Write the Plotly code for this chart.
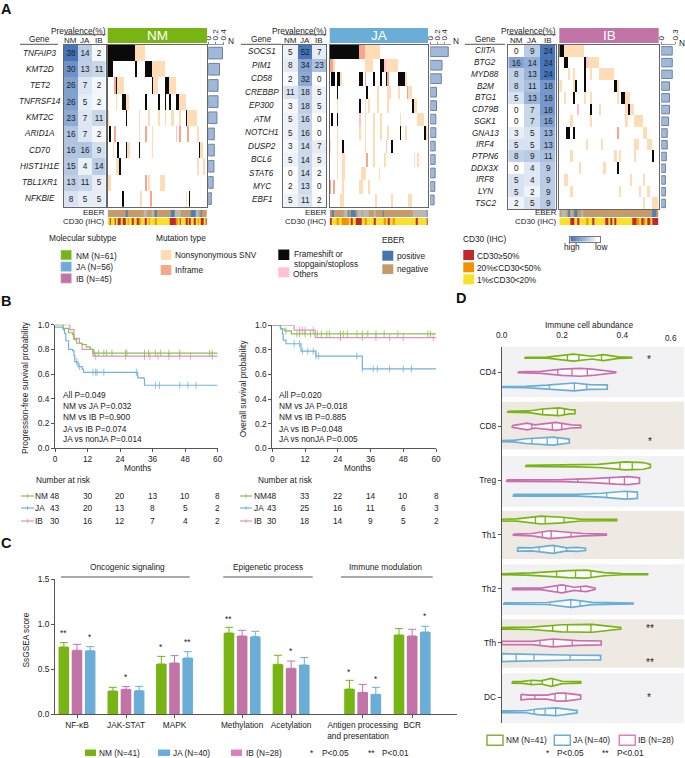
"""Molecular subtype figure: oncoplots, survival, ssGSEA bars, immune cell violins"""
import plotly.graph_objects as go

W, H = 685, 758

# colours
GREEN, BLUE, PINK = "#78b414", "#6aaed8", "#c274a8"
KM_GREEN, KM_BLUE, KM_PINK = "#8cc04a", "#72b2dd", "#e08fc4"
DARK = "#222222"
FONT = "Liberation Sans"

# panel A
NM_GENES = ["TNFAIP3", "KMT2D", "TET2", "TNFRSF14", "KMT2C", "ARID1A", "CD70", "HIST1H1E", "TBL1XR1", "NFKBIE"]
NM_PREV = [[38, 14, 2], [30, 13, 11], [26, 7, 2], [26, 5, 2], [23, 7, 11], [16, 7, 2], [16, 16, 9], [15, 4, 14], [13, 11, 5], [8, 5, 5]]
NM_FRAME = ["0-16", "0-2 17 23-26", "5 27 35-37", "9-10 23 31 35 38 42-43", "11 48", "1", "6 11 19 56", "7", "", "9 50"]
NM_SNV = ["17-22", "27-34", "6-9 28-30 38-41", "5 11-12 44-47", "0 19 25 31 35 39-40 44 49-54", "19 27 55", "3 12-13 27 57-58", "5-6 55 59", "0-1 25 32-34", "20 48"]
NM_INFRAME = ["", "", "4", "", "", "4 23 44 49", "", "", "23", "26"]
NM_OTHER = ["", "", "", "", "", "42", "", "", "", ""]
NM_EBER_POS = "11 29 39-40 51-52 53 57"
NM_EBER_NA = "22-23 27 41-44 54-55"
NM_CD30_RED = "1 4 6-7 9 10 15 18 23 38-41 44 48 50 53 57 58 60"
NM_CD30_ORANGE = "12 19 25 29 42 55"

JA_GENES = ["SOCS1", "PIM1", "CD58", "CREBBP", "EP300", "ATM", "NOTCH1", "DUSP2", "BCL6", "STAT6", "MYC", "EBF1"]
JA_PREV = [[5, 52, 7], [8, 34, 23], [2, 32, 0], [11, 18, 5], [3, 18, 5], [5, 16, 0], [5, 16, 0], [3, 14, 7], [5, 14, 5], [0, 14, 2], [2, 13, 0], [5, 11, 2]]
JA_FRAME = ["0-16", "29-30", "1-2 4-5 17-18 25 29 32 39-42", "4 21", "17 47", "1 4", "40 54", "7 35", "", "", "", ""]
JA_SNV = ["20-28", "2 20-24 32-38", "6 43", "27 33-34 39 45-46", "4 20 22 27 33 48-49", "20 25 29 40 50-53", "4 17 20 25 29 33 43 55", "0 4 20 25", "4 7-8 25 31 48 50", "4 7-8 18-20 28", "7 17-18 22", "6-7 26 35 45-46"]
JA_INFRAME = ["17-19", "0-1", "20 33", "44", "", "", "", "", "21", "", "0 2", ""]
JA_OTHER = ["", "31", "", "", "", "17", "", "32", "", "", "", ""]
JA_EBER_POS = "1 10 12-14 30 55"
JA_EBER_NA = "8-9 16-17 19-21 25 47-54"
JA_CD30_RED = "0 12 15-17 25 33 49 55"
JA_CD30_ORANGE = "4 7-10 20 31 36"

IB_GENES = ["CIITA", "BTG2", "MYD88", "B2M", "BTG1", "CD79B", "SGK1", "GNA13", "IRF4", "PTPN6", "DDX3X", "IRF8", "LYN", "TSC2"]
IB_PREV = [[0, 9, 24], [16, 14, 24], [8, 13, 24], [8, 11, 18], [5, 13, 18], [0, 7, 18], [0, 7, 16], [3, 5, 13], [5, 5, 13], [8, 9, 11], [0, 4, 9], [5, 4, 9], [5, 2, 9], [2, 5, 9]]
IB_FRAME = ["0-1", "2-3 11", "11", "7 11 25", "6 28-29", "14 31", "", "3-4 6", "", "42", "26", "", "", ""]
IB_SNV = ["2-10", "13-17", "4 6 14 18-24", "0 6 26", "2 11 14 26 30-31", "18 30 32-33", "5 14 30 34-37", "38-39", "12 19 34-35 40-41", "5 25 27 34", "9 20", "2-3 32 38", "5 27 36 40", "38 42-44"]
IB_INFRAME = ["", "", "", "", "", "", "", "26", "", "", "", "", "", ""]
IB_OTHER = ["", "12", "", "", "", "8", "", "", "", "", "", "", "", ""]
IB_EBER_POS = "4 7 42-43"
IB_EBER_NA = "1-2 5 10"
IB_CD30_RED = "5-6 8 15 21 23 25 33-34 37 40 42-44"
IB_CD30_ORANGE = "12 35 38"

# panel B, steps (months, survival)
PFS_NM_T = [0, 3, 5, 6.5, 7, 8, 10, 11.5, 13, 14, 60]
PFS_NM_S = [1, .97, .935, .92, .88, .85, .84, .82, .80, .77, .77]
PFS_IB_T = [0, 5.5, 7, 9, 10, 14, 60]
PFS_IB_S = [1, .96, .89, .85, .80, .745, .745]
PFS_JA_T = [0, 3, 3.5, 4, 5, 6.5, 7, 7.3, 8.5, 10, 10.5, 30.5, 32.5, 33, 60]
PFS_JA_S = [.98, .96, .93, .87, .80, .79, .75, .70, .66, .64, .615, .57, .565, .51, .51]
PFS_NM_C = [14.5, 16, 18, 19, 21, 26, 26.5, 33, 34.5, 37, 39, 42, 46, 57, 58]
PFS_IB_C = [15, 26, 33, 35, 38, 42, 46, 50, 58]
PFS_JA_C = [8, 9, 14, 15, 15.5, 18, 30, 37, 38.5, 46, 49, 52]
OS_NM_T = [0, 3, 4.5, 7, 60]
OS_NM_S = [1, .97, .955, .93, .93]
OS_IB_T = [0, 8, 15.7, 60]
OS_IB_S = [1, .96, .90, .90]
OS_JA_T = [0, 3, 3.7, 4, 5, 10.5, 16, 33, 60]
OS_JA_S = [1, .975, .93, .88, .85, .79, .75, .645, .645]
OS_NM_C = [5, 9, 10, 12, 14, 16.5, 18, 20, 21, 25, 26, 27.5, 31, 33, 35, 38, 41, 46, 57, 58]
OS_IB_C = [10, 11, 12, 15, 25, 33, 38, 43, 48, 59]
OS_JA_C = [8, 10, 11, 13, 15, 16, 17, 31, 33, 37, 38.5, 43, 48, 51]
RISK_MONTHS = [0, 12, 24, 36, 48, 60]
PFS_RISK = {"NM": [48, 30, 20, 13, 10, 8], "JA": [43, 20, 13, 8, 5, 2], "IB": [30, 16, 12, 7, 4, 2]}
OS_RISK = {"NM": [48, 33, 22, 14, 10, 8], "JA": [43, 25, 16, 11, 6, 3], "IB": [30, 18, 14, 9, 5, 2]}
PFS_P = ["All P=0.049", "NM vs JA P=0.032", "NM vs IB P=0.900", "JA vs IB P=0.074", "JA vs nonJA P=0.014"]
OS_P = ["All P=0.020", "NM vs JA P=0.018", "NM vs IB P=0.885", "JA vs IB P=0.048", "JA vs nonJA P=0.005"]

# panel C
PATHWAYS = ["NF-κB", "JAK-STAT", "MAPK", "Methylation", "Acetylation", "Antigen processing<br>and presentation&nbsp;&nbsp;&nbsp;&nbsp;", "BCR"]
PATHWAY_POS = [0, 1, 1.99, 3.37, 4.37, 5.83, 6.84]
SCORE_NM = [.746, .256, .557, .902, .553, .278, .88]
SCORE_IB = [.71, .275, .568, .869, .509, .241, .869]
SCORE_JA = [.705, .26, .624, .861, .546, .219, .913]
ERR_NM = [.049, .041, .085, .063, .101, .097, .071]
ERR_IB = [.066, .03, .082, .063, .081, .089, .074]
ERR_JA = [.045, .048, .07, .06, .082, .078, .064]
# pathway index, group offset, label, height
C_STARS = [(0, -1, "**", .906), (0, 1, "*", .86), (1, 0, "*", .416), (2, -1, "*", .743), (2, 1, "**", .806),
           (3, -1, "**", 1.06), (4, 0, "*", .705), (5, -1, "*", .47), (5, 1, "*", .394), (6, 1, "*", 1.09)]

# panel D: knots of each violin (value, relative half width) and quartile lines
CELLS = ["CD4", "CD8", "Treg", "Th1", "Th2", "Tfh", "DC"]
CD4_NM = ([.077, .15, .238, .30, .337, .387, .431], [.1, .12, .9, .35, .75, .2, .1], [.218, .256, .331])
CD4_IB = ([.055, .13, .20, .26, .30, .36, .378], [.1, .25, .8, 1, .8, .3, .1], [.186, .233, .284])
CD4_JA = ([0, .08, .15, .24, .29, .35], [.1, .15, .45, 1, .6, .55], [.158, .241, .282])
CD8_NM = ([.02, .09, .135, .19, .225, .243], [.1, .2, .7, 1, .55, .5], [.136, .185, .208])
CD8_IB = ([.035, .06, .085, .11, .18, .23, .262], [.2, .5, .85, .4, 1, .4, .3], [.1, .168, .199])
CD8_JA = ([0, .04, .08, .17, .224], [.15, .2, .6, 1, .5], [.1, .151, .185])
TREG_NM = ([.08, .25, .32, .41, .47, .493], [.15, .25, .4, 1, .85, .4], [.2, .392, .433])
TREG_IB = ([.017, .2, .3, .38, .42, .457], [.2, .25, .5, .9, 1, .7], [.252, .357, .407])
TREG_JA = ([.039, .25, .33, .41, .45], [.2, .2, .5, 1, .8], [.25, .348, .417])
TH1_NM = ([0, .05, .13, .2, .26, .381], [.2, .3, 1, .7, .25, .15], [.112, .144, .207])
TH1_IB = ([.039, .1, .16, .2, .27, .347], [.15, .3, 1, .7, .3, .15], [.135, .164, .23])
TH1_JA = ([.053, .1, .17, .215, .25, .278], [.45, .4, 1, .4, .5, .3], [.124, .175, .215])
TH2_NM = ([0, .1, .22, .28, .34, .4, .484], [.1, .3, .9, 1, .4, .15, .1], [.182, .245, .296])
TH2_IB = ([.036, .13, .2, .24, .28, .31], [.2, .2, 1, .4, .7, .15], [.185, .212, .262])
TH2_JA = ([.007, .15, .23, .3, .436], [.15, .25, 1, .3, .12], [.16, .229, .26])
TFH_NM = ([0, .1, .2, .3, .36, .395], [.2, .3, .9, 1, .5, .2], [.169, .218, .296])
TFH_IB = ([0, .1, .17, .25, .33], [.4, .4, 1, .6, .5], [.127, .171, .234])
TFH_JA = ([0, .1, .12, .25, .328], [1, .8, .8, .6, .55], [.048, .107, .227])
DC_NM = ([.035, .07, .1, .13, .165, .2, .262], [.2, .25, .55, .4, 1, .3, .2], [.097, .135, .169])
DC_IB = ([.064, .09, .15, .185, .21, .262], [.7, .5, .5, 1, 1, .5], [.11, .177, .213])
DC_JA = ([0, .08, .12, .18, .25], [.2, .25, .7, 1, .3], [.108, .144, .179])
VIOLINS = [[CD4_NM, CD4_IB, CD4_JA], [CD8_NM, CD8_IB, CD8_JA], [TREG_NM, TREG_IB, TREG_JA], [TH1_NM, TH1_IB, TH1_JA],
           [TH2_NM, TH2_IB, TH2_JA], [TFH_NM, TFH_IB, TFH_JA], [DC_NM, DC_IB, DC_JA]]


def expand(spec):
    out = []
    for part in spec.split():
        if "-" in part:
            a, b = part.split("-")
            out.extend(range(int(a), int(b) + 1))
        else:
            out.append(int(part))
    return out


fig = go.Figure()
axis_n = 0
annots = []
shapes = []


def px(x):
    return x / W


def py(y):
    return 1 - y / H


def new_axes(x0, x1, y0, y1, xopts=None, yopts=None):
    """new pair of axes placed by pixel box, returns the trace refs"""
    global axis_n
    axis_n += 1
    n = "" if axis_n == 1 else str(axis_n)
    base = dict(showgrid=False, zeroline=False, showticklabels=False, ticks="", showline=False)
    xa = dict(base, domain=[px(x0), px(x1)], anchor="y" + n)
    ya = dict(base, domain=[py(y1), py(y0)], anchor="x" + n)
    xa.update(xopts or {})
    ya.update(yopts or {})
    fig.update_layout({"xaxis" + n: xa, "yaxis" + n: ya})
    return "x" + n, "y" + n


def txt(x, y, s, size=8.3, anchor="left", color=DARK, angle=0, xref="paper", bold=False):
    annots.append(dict(x=px(x) if xref == "paper" else x, y=py(y), xref=xref, yref="paper", text=s, showarrow=False,
                       xanchor=anchor, yanchor="middle", textangle=angle, borderpad=0, borderwidth=0,
                       font=dict(size=size, color=color, family=FONT, weight="bold" if bold else "normal")))


def rect(x0, x1, y0, y1, fill, line=None, lw=0, layer="above"):
    shapes.append(dict(type="rect", xref="paper", yref="paper", x0=px(x0), x1=px(x1), y0=py(y1), y1=py(y0),
                       fillcolor=fill, line=dict(color=line or fill, width=lw), layer=layer))


def hline(x0, x1, y, color="#555555", w=1):
    shapes.append(dict(type="line", xref="paper", yref="paper", x0=px(x0), x1=px(x1), y0=py(y), y1=py(y),
                       line=dict(color=color, width=w)))


FRAME = dict(showline=True, mirror=True, linecolor="#666666", linewidth=1.3)
ONCO_SCALE = [[0, "#ffffff"], [.2, "#ffffff"], [.2, "#fddcb6"], [.4, "#fddcb6"], [.4, "#f6a68a"], [.6, "#f6a68a"],
              [.6, "#0a0a0a"], [.8, "#0a0a0a"], [.8, "#ffc0d4"], [1, "#ffc0d4"]]
STRIP_SCALE = [[0, "#c59c69"], [1 / 6, "#c59c69"], [1 / 6, "#4f7fb6"], [2 / 6, "#4f7fb6"], [2 / 6, "#bcb8b0"], [3 / 6, "#bcb8b0"],
               [3 / 6, "#f9e029"], [4 / 6, "#f9e029"], [4 / 6, "#f39200"], [5 / 6, "#f39200"], [5 / 6, "#c1272d"], [1, "#c1272d"]]
PREV_COLS = ["NM", "JA", "IB"]


def onco_panel(name, color, n_samples, genes, prev, frame, snv, inframe, other, eber_pos, eber_na, cd30_red, cd30_or,
               gene_x, gene_line, hm_x, onco_x, bar_x, bottom, bar_range, bar_ticks, n_label_x, label_right, prev_x, n_y):
    n = len(genes)
    # prevalence table
    xa, ya = new_axes(hm_x[0], hm_x[1], 45, bottom, dict(FRAME, range=[-.5, 2.5]), dict(FRAME, range=[n - .5, -.5]))
    fig.add_trace(go.Heatmap(z=prev, x=[0, 1, 2], y=list(range(n)), text=prev, texttemplate="%{text}",
                             textfont=dict(size=8.2, color=DARK, family=FONT), xaxis=xa, yaxis=ya, showscale=False,
                             zmin=0, zmax=max(max(r) for r in prev), colorscale=[[0, "#ffffff"], [1, "#4675ba"]]))
    # oncoplot
    z = [[0] * n_samples for _ in genes]
    for code, table in ((1, snv), (2, inframe), (3, frame), (4, other)):
        for i, spec in enumerate(table):
            for s in expand(spec):
                z[i][s] = code
    xa, ya = new_axes(onco_x[0], onco_x[1], 45, bottom, dict(FRAME, range=[-.5, n_samples - .5]), dict(FRAME, range=[n - .5, -.5]))
    fig.add_trace(go.Heatmap(z=z, xaxis=xa, yaxis=ya, showscale=False, zmin=-.5, zmax=4.5, colorscale=ONCO_SCALE))
    # N bars
    xa, ya = new_axes(bar_x[0], bar_x[1], 45, bottom,
                      dict(range=bar_range, side="top", tickvals=bar_ticks, ticktext=[str(t) for t in bar_ticks], showticklabels=True,
                           tickangle=-90, tickfont=dict(size=8, color=DARK, family=FONT), ticks="outside", ticklen=2, tickcolor="#888888",
                           showline=True, linecolor="#999999", linewidth=1),
                      dict(range=[n - .5, -.5]))
    fig.add_trace(go.Bar(x=[r[PREV_COLS.index(name)] / 100 for r in prev], y=list(range(n)), orientation="h", width=.72,
                         marker=dict(color="#a0b9da", line=dict(color="#6f7f9c", width=1)), xaxis=xa, yaxis=ya, showlegend=False))
    # EBER and CD30 strips
    eber = [0] * n_samples
    cd30 = [3] * n_samples
    for s in expand(eber_pos):
        eber[s] = 1
    for s in expand(eber_na):
        eber[s] = 2
    for s in expand(cd30_or):
        cd30[s] = 4
    for s in expand(cd30_red):
        cd30[s] = 5
    xa, ya = new_axes(onco_x[0], onco_x[1], 210, 225.5, dict(range=[-.5, n_samples - .5]), dict(range=[1.5, -.5]))
    fig.add_trace(go.Heatmap(z=[eber, cd30], xaxis=xa, yaxis=ya, showscale=False, zmin=-.5, zmax=5.5, ygap=1, colorscale=STRIP_SCALE))
    # texts
    rect(onco_x[0], onco_x[1], 28, 43, color)
    txt((onco_x[0] + onco_x[1]) / 2, 35.5, name, size=13.5, anchor="center", color="#ffffff")
    row_h = (bottom - 45) / n
    for i, g in enumerate(genes):
        txt(gene_x, 45 + row_h * (i + .5), "<i>" + g + "</i>", anchor="center", size=8.2)
    txt(gene_x, 39, "Gene", anchor="center")
    hline(gene_line[0], gene_line[1], 44.3, "#555555", 1)
    txt(prev_x, 30.7, "Prevalence(%)", anchor="center")
    hline(hm_x[0], hm_x[1], 34.7, "#555555", 1)
    col_w = (hm_x[1] - hm_x[0]) / 3
    for j, c in enumerate(PREV_COLS):
        txt(hm_x[0] + col_w * (j + .5), 40.7, c, anchor="center", size=8)
    txt(n_label_x, n_y, "N", anchor="center")
    txt(label_right, 212.6, "EBER", anchor="right", size=7.9)
    txt(label_right, 221.4, "CD30 (IHC)", anchor="right", size=7.9)


onco_panel("NM", GREEN, 61, NM_GENES, NM_PREV, NM_FRAME, NM_SNV, NM_INFRAME, NM_OTHER, NM_EBER_POS, NM_EBER_NA, NM_CD30_RED, NM_CD30_ORANGE,
           39.5, (20, 58), (64, 105.5), (107.7, 207), (208.3, 224), 206.7, [0, .42], [0, .2, .4], 231, 105, 78, 41)
onco_panel("JA", BLUE, 56, JA_GENES, JA_PREV, JA_FRAME, JA_SNV, JA_INFRAME, JA_OTHER, JA_EBER_POS, JA_EBER_NA, JA_CD30_RED, JA_CD30_ORANGE,
           261.7, (241, 281.7), (283.3, 326.3), (329.7, 428), (430.3, 451), 206.7, [0, .6], [0, .2, .4], 455.7, 327, 299.3, 41)
onco_panel("IB", PINK, 45, IB_GENES, IB_PREV, IB_FRAME, IB_SNV, IB_INFRAME, IB_OTHER, IB_EBER_POS, IB_EBER_NA, IB_CD30_RED, IB_CD30_ORANGE,
           485, (465, 505), (508.3, 555.7), (559.3, 658.7), (661.3, 675), 209.3, [0, .3], [0, .3], 681.7, 557, 528.7, 43)

# panel A legends
txt(49, 238.3, "Molecular subtype")
for y0, c, s in ((250, GREEN, "NM (N=61)"), (261.7, BLUE, "JA (N=56)"), (273.3, PINK, "IB (N=45)")):
    rect(60.7, 71.7, y0, y0 + 10, c, "#e8e8e8", .6)
    txt(75.7, y0 + 5.7, s)
txt(155.7, 238.3, "Mutation type")
rect(160.7, 171.3, 250, 260, "#fddcb6")
txt(174.7, 255, "Nonsynonymous SNV")
rect(160.7, 171.3, 265, 275, "#f6a68a")
txt(174.7, 269.7, "Inframe")
rect(278.3, 289.3, 249.5, 260, "#0a0a0a")
txt(293.7, 254.3, "Frameshift or")
txt(293.7, 264.3, "stopgain/stoploss")
rect(278.3, 289.3, 267.3, 277.3, "#ffc0d4")
txt(293, 273.5, "Others")
txt(381.7, 239.7, "EBER")
rect(382.3, 393.3, 250.7, 260.7, "#4675ae")
txt(396.7, 255.7, "positive")
rect(382.3, 393.3, 264.3, 274, "#c59c69")
txt(396.7, 268.7, "negative")
txt(462.7, 239.3, "CD30 (IHC)")
for y0, c, s in ((250, "#c1272d", "CD30≥50%"), (262.3, "#f39200", "20%≤CD30&lt;50%"), (274.3, "#f9e029", "1%≤CD30&lt;20%")):
    rect(463.3, 474, y0, y0 + 10, c)
    txt(477.3, y0 + 5.5, s)
xa, ya = new_axes(570.3, 599.7, 236.7, 241.7, dict(FRAME, linecolor="#777777", linewidth=1), dict(FRAME, linecolor="#777777", linewidth=1))
fig.add_trace(go.Heatmap(z=[[9, 8, 7, 6, 5, 4, 3, 2, 1, 0]], xaxis=xa, yaxis=ya, showscale=False, colorscale=[[0, "#ffffff"], [1, "#4675ba"]]))
txt(572.3, 247.2, "high", anchor="center")
txt(601, 247.2, "low", anchor="center")


# panel B
def km_panel(x0, x1, top, curves, risk, pvals, ylabel, ylabel_x, p_x, months_x, risk_title_x, line_x, label_x):
    tick = dict(showline=True, linecolor="#555555", linewidth=1, ticks="outside", ticklen=3, tickcolor="#555555", showticklabels=True,
                tickfont=dict(size=8.3, color=DARK, family=FONT))
    xa, ya = new_axes(x0, x1, top, 448.3, dict(tick, range=[0, 60], tickvals=RISK_MONTHS),
                      dict(tick, range=[0, 1], tickvals=[0, .2, .4, .6, .8, 1], tickformat=".1f"))
    for times, surv, cens, color in curves:
        fig.add_trace(go.Scatter(x=times, y=surv, mode="lines", line=dict(color=color, width=1.2, shape="hv"), xaxis=xa, yaxis=ya,
                                 showlegend=False, cliponaxis=False))
        # censor ticks sit on the step curve
        ys = [[s for t, s in zip(times, surv) if t <= c][-1] for c in cens]
        fig.add_trace(go.Scatter(x=cens, y=ys, mode="markers", marker=dict(symbol="line-ns", size=5, line=dict(color=color, width=.8)),
                                 xaxis=xa, yaxis=ya, showlegend=False))
    txt(ylabel_x, 388, ylabel, anchor="center", angle=-90)
    for y, s in zip((395.3, 406.3, 417.3, 428.7, 439.3), pvals):
        txt(p_x, y, s)
    txt(months_x, 468, "Months", anchor="center")
    txt(risk_title_x, 480, "Number at risk")
    for (key, values), y, color in zip(risk.items(), (496, 508, 521), (KM_GREEN, KM_BLUE, KM_PINK)):
        hline(line_x[0], line_x[1], y, color, 1.2)
        shapes.append(dict(type="line", xref="paper", yref="paper", x0=px(sum(line_x) / 2), x1=px(sum(line_x) / 2),
                           y0=py(y - 2), y1=py(y + 2), line=dict(color=color, width=.8)))
        txt(label_x, y, key)
        for m, v in zip(RISK_MONTHS, values):
            txt(m, y, str(v), anchor="center", xref=xa)


km_panel(55, 217.7, 324.7, [(PFS_IB_T, PFS_IB_S, PFS_IB_C, KM_PINK), (PFS_NM_T, PFS_NM_S, PFS_NM_C, KM_GREEN), (PFS_JA_T, PFS_JA_S, PFS_JA_C, KM_BLUE)],
         PFS_RISK, PFS_P, "Progression-free survival probability", 25, 63.3, 137.7, 35.7, (21, 34), 35)
km_panel(272.3, 436, 325.3, [(OS_IB_T, OS_IB_S, OS_IB_C, KM_PINK), (OS_NM_T, OS_NM_S, OS_NM_C, KM_GREEN), (OS_JA_T, OS_JA_S, OS_JA_C, KM_BLUE)],
         OS_RISK, OS_P, "Overall survival probability", 243.3, 279.3, 357.3, 257.7, (240, 252), 254)

# panel C, one x unit is 49 px and the first group is centred at 77 px
xa, ya = new_axes(55, 457, 579.3, 714,
                  dict(range=[(55 - 77) / 49, (457 - 77) / 49], tickvals=PATHWAY_POS, ticktext=PATHWAYS, showticklabels=True, showline=True,
                       linecolor="#555555", linewidth=1, ticks="outside", ticklen=3, tickcolor="#555555", tickangle=0,
                       tickfont=dict(size=8.3, color=DARK, family=FONT)),
                  dict(range=[0, 1.5], tickvals=[0, .5, 1, 1.5], tickformat=".1f", showticklabels=True, showline=True,
                       linecolor="#555555", linewidth=1, ticks="outside", ticklen=3, tickcolor="#555555",
                       tickfont=dict(size=8.3, color=DARK, family=FONT)))
for vals, errs, color in ((SCORE_NM, ERR_NM, GREEN), (SCORE_IB, ERR_IB, PINK), (SCORE_JA, ERR_JA, BLUE)):
    fig.add_trace(go.Bar(x=PATHWAY_POS, y=vals, marker_color=color, xaxis=xa, yaxis=ya, showlegend=False,
                         error_y=dict(type="data", symmetric=False, array=errs, arrayminus=[0] * len(errs), color=color, thickness=1, width=4)))
for idx, off, s, v in C_STARS:
    annots.append(dict(x=PATHWAY_POS[idx] + off * .2714, y=v, xref=xa, yref=ya, text=s, showarrow=False,
                       font=dict(size=8.3, color=DARK, family=FONT)))
txt(25, 639.5, "SsGSEA score", anchor="center", angle=-90)
for x0, x1, s, cx in ((61, 189.7, "Oncogenic signaling", 128), (223.3, 312.7, "Epigenetic process", 268), (341, 432.7, "Immune modulation", 385)):
    hline(x0, x1, 577, "#555555", 1)
    txt(cx, 567, s, anchor="center")
for x0, x1, c, lx, s in ((85, 96, GREEN, 99.3, "NM (N=41)"), (158, 170, BLUE, 173, "JA (N=40)"), (231, 242, "#e07fbe", 245.7, "IB (N=28)")):
    rect(x0, x1, 749.5, 756, c)
    txt(lx, 753, s)
txt(312, 753, "*", anchor="center")
txt(322, 753, "P&lt;0.05")
txt(371.7, 753, "**", anchor="center")
txt(382, 753, "P&lt;0.01")

# panel D, one y unit is one violin row of 14.67 px
GROUP_STEP = 3.69
for y0, y1, c in ((346.7, 397.3, "#f2f2f4"), (401.7, 449.3, "#efe9e3"), (456, 506.7, "#f2f2f4"), (511, 559, "#efe9e3"),
                  (564.3, 615, "#f2f2f4"), (619.3, 667.7, "#efe9e3"), (673.3, 723.3, "#f2f2f4")):
    rect(502, 684, y0, y1, c, layer="below")
row_top = -(372.3 - 346.7) / 14.67
row_bottom = (723.3 - 372.3) / 14.67
xa, ya = new_axes(501.7, 684, 346.7, 723.3,
                  dict(range=[0, 182.3 / 301.5], side="top", tickvals=[0, .2, .4], tickformat=".1f", showticklabels=True,
                       tickfont=dict(size=8.3, color=DARK, family=FONT), ticks="outside", ticklen=4, tickcolor="rgba(0,0,0,0)", showline=False),
                  dict(range=[row_bottom, row_top], tickvals=[i * GROUP_STEP for i in range(7)], ticktext=CELLS, showticklabels=True,
                       showline=True, linecolor="#555555", linewidth=1, ticks="outside", ticklen=3, tickcolor="#555555",
                       tickfont=dict(size=8.3, color=DARK, family=FONT)))
D_COLORS = [GREEN, "#c96fae", BLUE]
for g, group in enumerate(VIOLINS):
    for r, (xs, hs, qs) in enumerate(group):
        cy = g * GROUP_STEP + r - 1
        half = [h * .27 for h in hs]
        xp = xs + xs[::-1] + [xs[0]]
        yp = [cy - h for h in half] + [cy + h for h in half[::-1]] + [cy - half[0]]
        fig.add_trace(go.Scatter(x=xp, y=yp, mode="lines", fill="toself", fillcolor="rgba(255,255,255,0.75)",
                                 line=dict(color=D_COLORS[r], width=1.7), xaxis=xa, yaxis=ya, showlegend=False, cliponaxis=False))
        qx, qy = [], []
        for q in qs:
            h = next((b + (q - xa0) / (xb - xa0) * (c - b) for xa0, xb, b, c in zip(xs, xs[1:], half, half[1:]) if xa0 <= q <= xb), 0)
            qx += [q, q, None]
            qy += [cy - h, cy + h, None]
        fig.add_trace(go.Scatter(x=qx, y=qy, mode="lines", line=dict(color=D_COLORS[r], width=1.3), xaxis=xa, yaxis=ya, showlegend=False))
txt(671, 337.5, "0.6", anchor="center")
txt(589.3, 324.5, "Immune cell abundance", anchor="center")
for x, y, s in ((649, 358, "*"), (650, 440, "*"), (650, 627, "**"), (650, 661, "**"), (649, 696, "*")):
    txt(x, y + 1, s, anchor="center", size=10)
for x0, c, lx, s in ((487, "#86b23c", 505.7, "NM (N=41)"), (554.3, BLUE, 572.7, "JA (N=40)"), (619.3, "#e07fbe", 637.7, "IB (N=28)")):
    rect(x0, x0 + 16, 735.3, 745.3, "#ffffff", c, 1.5)
    txt(lx, 740, s)
txt(547.7, 753, "*", anchor="center")
txt(557.3, 753, "P&lt;0.05")
txt(605.3, 753, "**", anchor="center")
txt(616.7, 753, "P&lt;0.01")

# panel letters
for x, y, s in ((6.5, 9, "A"), (6, 301, "B"), (6, 543, "C"), (461, 298, "D")):
    txt(x, y, s, size=14.5, anchor="center", color="#111111", bold=True)

fig.update_layout(width=W, height=H, margin=dict(l=0, r=0, t=0, b=0), autosize=False, template="none", showlegend=False,
                  barmode="group", bargap=.186, bargroupgap=.195, paper_bgcolor="#ffffff", plot_bgcolor="rgba(0,0,0,0)",
                  annotations=annots, shapes=shapes, font=dict(family=FONT, color=DARK))
fig.write_html("out.html", config=dict(displayModeBar=False),
               post_script="document.body.style.margin='0';document.body.style.overflow='hidden';")
